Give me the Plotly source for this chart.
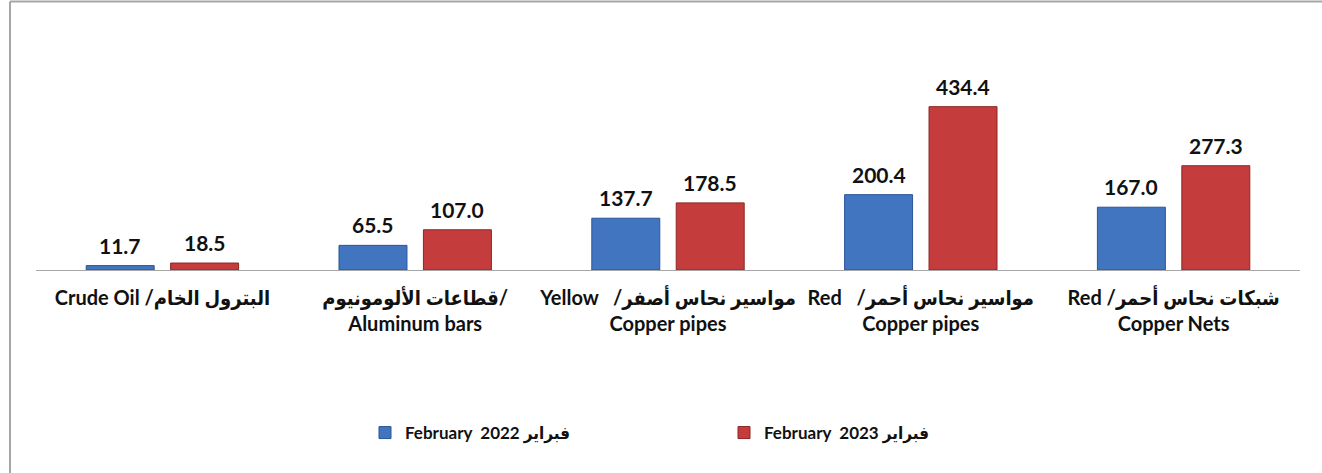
import plotly.graph_objects as go

# Category labels (English / Arabic), lines separated by <br>
categories = [
    "Crude Oil /البترول الخام",
    "قطاعات الألومونيوم/<br>Aluminum bars",
    "Yellow\u00a0\u00a0\u00a0/مواسير نحاس أصفر<br>Copper pipes",
    "Red\u00a0\u00a0\u00a0/مواسير نحاس أحمر<br>Copper pipes",
    "Red /شبكات نحاس أحمر<br>Copper Nets",
]
series_names = ["February\u00a0\u00a02022 فبراير", "February\u00a0\u00a02023 فبراير"]
values_2022 = [11.7, 65.5, 137.7, 200.4, 167.0]
values_2023 = [18.5, 107.0, 178.5, 434.4, 277.3]

W, H = 1322, 473
M = dict(l=36, r=22, t=82, b=203)
plot_w = W - M["l"] - M["r"]
plot_h = H - M["t"] - M["b"]

# Latin glyphs from Lato, Arabic falls back to a condensed face
FONT = "Lato, 'DejaVu Sans Condensed', 'DejaVu Sans', sans-serif"
BLUE, BLUE_EDGE = "#4275c0", "#2b5597"
RED, RED_EDGE = "#c43d3c", "#8c2624"

fig = go.Figure()
for name, vals, col, edge in [
    (series_names[0], values_2022, BLUE, BLUE_EDGE),
    (series_names[1], values_2023, RED, RED_EDGE),
]:
    fig.add_trace(go.Bar(
        x=categories, y=vals, name=name,
        marker=dict(color=col, line=dict(color=edge, width=1)),
        hoverinfo="y",
    ))

# value labels above each bar
slot = plot_w / len(categories) * (1 - 0.332) / 2
annotations = []
for k, vals in enumerate([values_2022, values_2023]):
    shift = (k - 0.5) * slot
    for c, v in zip(categories, vals):
        annotations.append(dict(
            x=c, y=v, xref="x", yref="y", text=f"{v:.1f}",
            showarrow=False, yanchor="bottom", xshift=shift, yshift=6,
            font=dict(family=FONT, size=21, color="#111111", weight="bold"),
        ))

# outer frame (left and top edges)
fx0 = (10 - M["l"]) / plot_w
fx1 = (W + 5 - M["l"]) / plot_w
fy_top = (H - 1.5 - M["b"]) / plot_h
fy_bot = (-M["b"] - 5) / plot_h
shapes = [
    dict(type="line", xref="paper", yref="paper", x0=fx0, x1=fx0, y0=fy_bot, y1=fy_top,
         line=dict(color="#a6a6a6", width=2)),
    dict(type="line", xref="paper", yref="paper", x0=fx0, x1=fx1, y0=fy_top, y1=fy_top,
         line=dict(color="#a6a6a6", width=2)),
]

fig.update_layout(
    width=W, height=H, margin=M,
    paper_bgcolor="white", plot_bgcolor="white",
    bargap=0.332, bargroupgap=0.195,
    font=dict(family=FONT, color="#111111"),
    xaxis=dict(
        showline=True, linecolor="#a6a6a6", linewidth=1,
        ticks="", showgrid=False, tickangle=0, automargin=False,
        tickfont=dict(family=FONT, size=20, color="#111111", weight="bold"),
        ticklabelstandoff=10,
    ),
    yaxis=dict(range=[0, 500], visible=False, showgrid=False, automargin=False),
    legend=dict(
        orientation="h", x=(365 - M["l"]) / plot_w, xanchor="left",
        y=(M["t"] + plot_h - 433) / plot_h, yanchor="middle",
        font=dict(family=FONT, size=17, color="#111111", weight="bold"),
        entrywidth=314, itemwidth=30, traceorder="normal",
    ),
    annotations=annotations,
    shapes=shapes,
    showlegend=True,
)

fig.write_html("out.html")
